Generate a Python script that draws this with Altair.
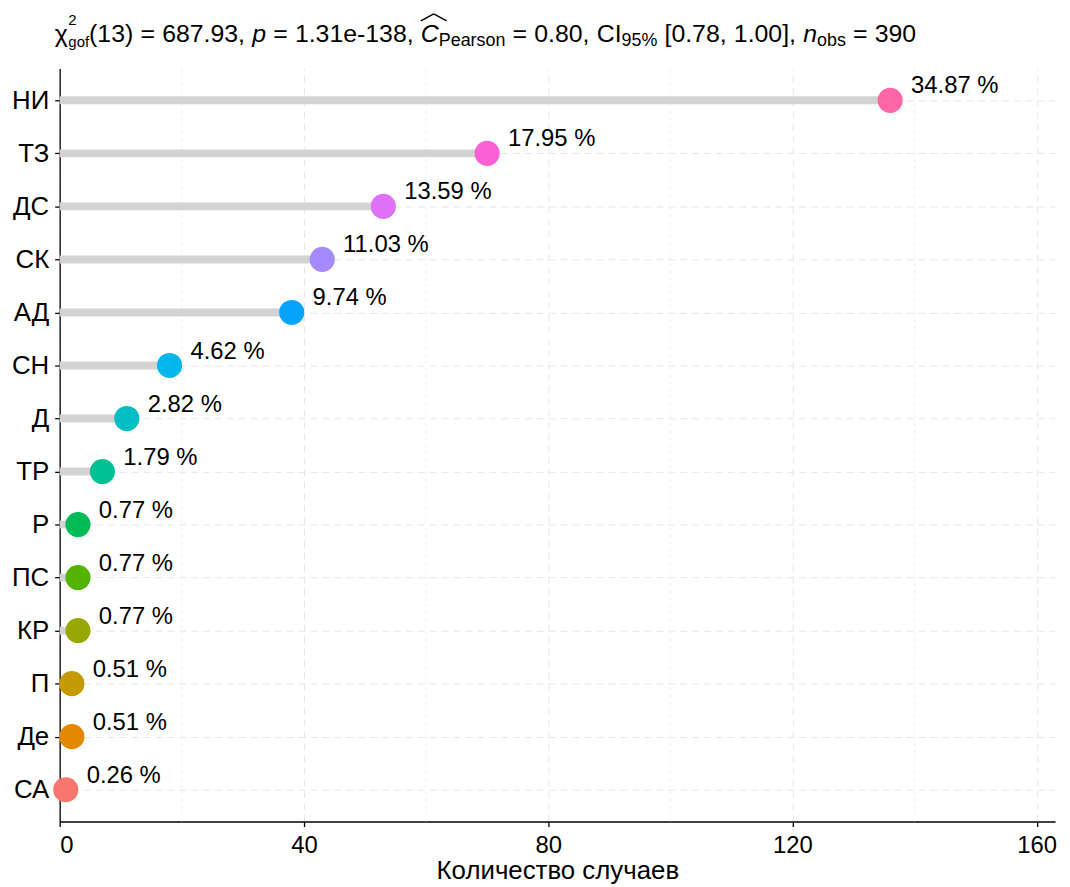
import altair as alt
import pandas as pd

# ---------------- data ----------------
categories = ["НИ", "ТЗ", "ДС", "СК", "АД", "СН", "Д", "ТР", "Р", "ПС", "КР", "П", "Де", "СА"]
counts = [136, 70, 53, 43, 38, 18, 11, 7, 3, 3, 3, 2, 2, 1]
percents = [34.87, 17.95, 13.59, 11.03, 9.74, 4.62, 2.82, 1.79, 0.77, 0.77, 0.77, 0.51, 0.51, 0.26]
colors = ["#FF66A8", "#FB61D7", "#DF70F8", "#A58AFF", "#06A4FF", "#00B6EB", "#00BFC4",
          "#00C094", "#00BC56", "#53B400", "#99A800", "#C49A00", "#E38900", "#F8766D"]
x_ticks = [0, 40, 80, 120, 160]
minor_ticks = [20, 60, 100, 140]
x_title = "Количество случаев"

df = pd.DataFrame({"cat": categories, "n": counts, "pct": percents})
df["label"] = df["pct"].map(lambda v: f"{v:.2f} %")
minor_df = pd.DataFrame({"v": minor_ticks})

FONT = "Liberation Sans"
W, H = 1002, 758

xscale = alt.Scale(domain=[0, 163], nice=False, zero=True)
yscale = alt.Scale(type="point", padding=0.6, domain=categories)

minor = alt.Chart(minor_df).mark_rule(color="#EEEEEE", strokeDash=[3, 4], strokeWidth=1).encode(
    x=alt.X("v:Q", scale=xscale)
)

base = alt.Chart(df)

stems = base.mark_rule(color="#D3D3D3", strokeWidth=8).encode(
    x=alt.X("n:Q", scale=xscale,
            axis=alt.Axis(values=x_ticks, title=x_title, grid=True)),
    x2=alt.datum(0),
    y=alt.Y("cat:N", scale=yscale, sort=categories, axis=alt.Axis(title=None, grid=True)),
)

dots = base.mark_circle(size=640, opacity=1).encode(
    x=alt.X("n:Q", scale=xscale),
    y=alt.Y("cat:N", scale=yscale, sort=categories),
    color=alt.Color("cat:N", scale=alt.Scale(domain=categories, range=colors), legend=None),
)

labels = base.mark_text(align="left", baseline="alphabetic", dx=21, dy=-7,
                        fontSize=24, font=FONT, color="black").encode(
    x=alt.X("n:Q", scale=xscale),
    y=alt.Y("cat:N", scale=yscale, sort=categories),
    text="label:N",
)

# ---------------- title built from pieces ----------------
MET = {" ": .278, ",": .278, ".": .278, "-": .333, "(": .333, ")": .333, "[": .278, "]": .278,
       "=": .584, "%": .889, "e": .556, "C": .722, "I": .278, "P": .667, "a": .556, "r": .333,
       "s": .5, "o": .556, "n": .556, "b": .556, "g": .556, "f": .278, "p": .556, "χ": .55}


def tw(s, size):
    return sum(MET.get(c, .556) for c in s) * size


F, S, S2 = 25, 18, 15
SP = None
segs = [("χ", "n"), ("2", "sup"), ("gof", "sub2"), ("(13)", "n"), SP, ("=", "n"), SP,
        ("687.93,", "n"), SP, ("p", "i"), SP, ("=", "n"), SP, ("1.31e-138,", "n"), SP,
        ("C", "hat"), ("Pearson", "sub"), SP, ("=", "n"), SP, ("0.80,", "n"), SP,
        ("CI", "n"), ("95%", "sub"), SP, ("[0.78,", "n"), SP, ("1.00],", "n"), SP,
        ("n", "i"), ("obs", "sub"), SP, ("=", "n"), SP, ("390", "n")]

x = -5.0
yb = -27
gap = 0.29 * F
title_layers = []
sup_w = 0
one = alt.Data(values=[{}])
for seg in segs:
    if seg is None:
        x += gap
        continue
    txt, kind = seg
    if kind == "sup":
        size, yy, style = S2, yb - 17, "normal"
    elif kind == "sub2":
        size, yy, style = S2, yb + 5, "normal"
    elif kind == "sub":
        size, yy, style = S, yb + 4, "normal"
    elif kind in ("i", "hat"):
        size, yy, style = F, yb, "italic"
    else:
        size, yy, style = F, yb, "normal"
    title_layers.append(
        alt.Chart(one).mark_text(align="left", baseline="alphabetic", fontSize=size,
                                 font=FONT, fontStyle=style, color="black").encode(
            x=alt.value(x), y=alt.value(yy), text=alt.value(txt))
    )
    w = tw(txt, size)
    if kind == "hat":
        cx = x + 1
        for (a, b, c, d) in [(cx - 1, yb - 21, cx + 12, yb - 28), (cx + 12, yb - 28, cx + 25, yb - 21)]:
            title_layers.append(
                alt.Chart(one).mark_rule(color="black", strokeWidth=1.4).encode(
                    x=alt.value(a), y=alt.value(b), x2=alt.value(c), y2=alt.value(d))
            )
    if kind == "sup":
        sup_w = w
        continue
    if kind in ("sub", "sub2"):
        w = max(w, sup_w)
        sup_w = 0
    x += w

chart = alt.layer(minor, stems, dots, labels, *title_layers).properties(
    width=W, height=H, padding={"left": 3, "top": 2, "right": 5, "bottom": 2}
).configure_view(stroke=None).configure_axis(
    domainColor="black", domainWidth=1.3, tickColor="black", tickSize=5, tickWidth=1.3,
    labelColor="black", labelFont=FONT, titleFont=FONT, titleColor="black",
    titleFontWeight="normal", gridColor="#E6E6E6", gridDash=[7, 5], gridWidth=1,
).configure_axisX(
    labelFontSize=24, titleFontSize=26, labelPadding=7, titlePadding=0,
).configure_axisY(
    labelFontSize=26, labelPadding=6,
)

chart.save("out.html", embed_options={"renderer": "svg", "actions": False})
